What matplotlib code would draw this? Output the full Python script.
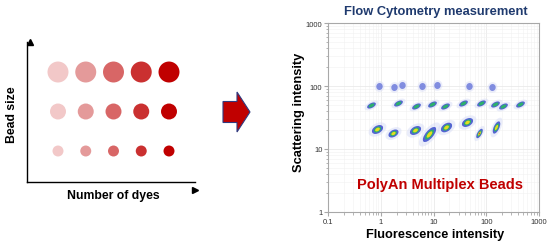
import numpy as np
import matplotlib
matplotlib.use("Agg")
import matplotlib.pyplot as plt
from matplotlib.path import Path
from matplotlib.transforms import Affine2D

plt.rcParams['font.family'] = ['Liberation Sans', 'DejaVu Sans']

# ----------------------------------------------------------------------------
# Data
# ----------------------------------------------------------------------------
# left sketch: bead size rows x number of dyes columns
dye_levels = [1, 2, 3, 4, 5]
bead_rows = [1, 2, 3]
bead_sizes_pt = [7.9, 11.5, 15.1]          # circle diameter per row
dye_colors = ['#F2C8C8', '#E49A9A', '#D86666', '#CA3030', '#C00000']

# flow cytometry clusters (fluorescence, scattering)
top_x = [0.92, 1.8, 2.5, 6.1, 11.7, 47, 130]
top_y = [100, 95, 102, 99, 102, 101, 95]
mid_x = [0.65, 2.1, 4.7, 9.2, 16.8, 36, 78, 145, 210, 435]
mid_y = [50, 53, 49, 51, 48, 54, 53, 51, 48, 51]
bot_x = [0.85, 1.7, 4.5, 8.1, 17.4, 43, 72, 150]
bot_y = [21, 18, 20, 17, 22, 27, 18, 22]
bot_angle = [30, 30, 30, 50, 35, 30, 60, 65]
bot_scale = [1.0, 0.9, 1.0, 1.35, 1.0, 1.0, 0.85, 1.1]

log_ticks = [0.1, 1, 10, 100, 1000]
log_labels = ['0.1', '1', '10', '100', '1000']
y_ticks = [1, 10, 100, 1000]
y_labels = ['1', '10', '100', '1000']


def ellipse_marker(aspect, angle):
    circ = Path.unit_circle()
    return circ.transformed(Affine2D().scale(aspect, 1).rotate_deg(angle))


# ----------------------------------------------------------------------------
# Figure
# ----------------------------------------------------------------------------
W, H = 550, 251
fig = plt.figure(figsize=(5.5, 2.51), dpi=100)

# overlay in pixel coordinates for the big arrow and free labels
ov = fig.add_axes([0, 0, 1, 1])
ov.set_xlim(0, W)
ov.set_ylim(H, 0)
ov.axis('off')
ov.arrow(223, 113, 27, 0, width=21, head_width=40, head_length=13,
         length_includes_head=True, fc='#C00000', ec='#2F3A80', lw=0.8)

# --- left sketch ---
ax0 = fig.add_axes([27 / W, (H - 183) / H, 168 / W, 140 / H])
ax0.set_xlim(-0.117, 5.937)
ax0.set_ylim(0.215, 3.76)
for r, sz in zip(bead_rows, bead_sizes_pt):
    ax0.scatter(dye_levels, [r] * len(dye_levels), s=sz ** 2, c=dye_colors,
                linewidths=0, zorder=3)
for s in ['top', 'right']:
    ax0.spines[s].set_visible(False)
for s in ['left', 'bottom']:
    ax0.spines[s].set_linewidth(1.0)
ax0.set_xticks([])
ax0.set_yticks([])
ax0.plot(1, 0, '>k', ms=4.5, transform=ax0.get_yaxis_transform(), clip_on=False)
ax0.plot(0, 1, '^k', ms=4.5, transform=ax0.get_xaxis_transform(), clip_on=False)
ov.text(113, 196, 'Number of dyes', ha='center', va='center',
        fontsize=8.8, fontweight='bold')
ov.text(12, 115, 'Bead size', ha='center', va='center', rotation=90,
        fontsize=8.8, fontweight='bold')

# --- flow cytometry plot ---
ax = fig.add_axes([328 / W, (H - 213) / H, 211 / W, 189 / H])
ax.set_xscale('log')
ax.set_yscale('log')
ax.set_xlim(0.1, 1000)
ax.set_ylim(1, 1000)
ax.grid(True, which='major', color='#E6E6E6', lw=0.5)
ax.grid(True, which='minor', color='#F1F1F1', lw=0.4)
ax.set_axisbelow(True)
for s in ax.spines.values():
    s.set_color('#A8A8A8')
    s.set_linewidth(0.8)
ax.set_xticks(log_ticks, log_labels)
ax.set_yticks(y_ticks, y_labels)
ax.tick_params(which='both', colors='#A8A8A8', labelcolor='#333333',
               labelsize=5.5, pad=1)
ax.tick_params(which='major', length=3)
ax.tick_params(which='minor', length=1.8)

layers = [('#D2D8F6', 1.6, 0.45), ('#3A4CCC', 1.0, 0.85),
          ('#2CB06C', 0.66, 1.0), ('#E6DC1E', 0.42, 1.0), ('#E2401A', 0.2, 1.0)]

# top row: sparse blue clouds
m_top = ellipse_marker(1.1, 80)
ax.scatter(top_x, top_y, s=8 ** 2, marker=m_top, c='#D8DDF6',
           alpha=0.5, linewidths=0, zorder=3)
ax.scatter(top_x, top_y, s=5.2 ** 2, marker=m_top, c='#5565D6',
           alpha=0.7, linewidths=0, zorder=3)
# middle row: small blue/green blobs
m_mid = ellipse_marker(2.0, 28)
for col, f, a in layers[:3]:
    ax.scatter(mid_x, mid_y, s=(6.5 * f) ** 2, marker=m_mid, c=col,
               alpha=a, linewidths=0, zorder=4)
# bottom row: dense clusters with warm cores
for bx, by, ang, sc in zip(bot_x, bot_y, bot_angle, bot_scale):
    mk = ellipse_marker(1.6 if ang < 45 else 2.4, ang)
    n_layers = 5 if bx in (72,) else 4
    for col, f, a in layers[:n_layers]:
        ax.scatter([bx], [by], s=(8.3 * sc * f) ** 2, marker=mk, c=col,
                   alpha=a, linewidths=0, zorder=5)

ax.text(0.53, 0.148, 'PolyAn Multiplex Beads', transform=ax.transAxes,
        ha='center', va='center', fontsize=10.5, fontweight='bold',
        color='#C00000')
ov.text(436, 12, 'Flow Cytometry measurement', ha='center', va='center',
        fontsize=9.3, fontweight='bold', color='#1F3A6E')
ov.text(435, 235, 'Fluorescence intensity', ha='center', va='center',
        fontsize=9.2, fontweight='bold')
ov.text(299, 112, 'Scattering intensity', ha='center', va='center',
        rotation=90, fontsize=9.3, fontweight='bold')

fig.savefig('out.png', dpi=100)
plt.close(fig)
